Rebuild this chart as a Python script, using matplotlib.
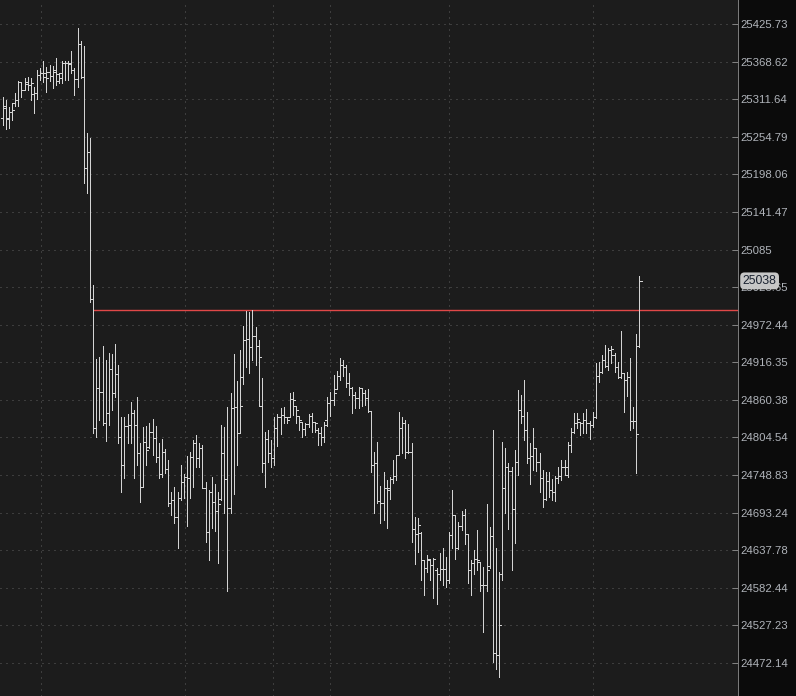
import matplotlib
matplotlib.use("Agg")
import matplotlib.pyplot as plt
from matplotlib.ticker import FixedLocator, FixedFormatter, NullLocator
from matplotlib.transforms import blended_transform_factory

# OHLC bars (oldest first)
opens = [25283, 25298, 25283, 25292, 25306, 25310, 25338, 25326, 25338, 25333,
         25320, 25321, 25349, 25352, 25352, 25353, 25347, 25353, 25350, 25352,
         25367, 25367, 25367, 25356, 25342, 25396, 25346, 25208, 25232, 25011,
         24819, 24878, 24872, 24826, 24841, 24907, 24871, 24899, 24805, 24764,
         24822, 24823, 24841, 24823, 24782, 24731, 24798, 24791, 24813, 24804,
         24776, 24751, 24783, 24758, 24708, 24712, 24687, 24715, 24739, 24746,
         24745, 24776, 24797, 24774, 24789, 24730, 24665, 24723, 24709, 24695,
         24714, 24782, 24743, 24700, 24849, 24850, 24811, 24895, 24949, 24951,
         24939, 24955, 24940, 24852, 24767, 24802, 24782, 24774, 24819, 24835,
         24838, 24835, 24835, 24862, 24851, 24836, 24828, 24817, 24825, 24837,
         24828, 24816, 24811, 24805, 24831, 24856, 24860, 24877, 24896, 24912,
         24909, 24886, 24878, 24868, 24863, 24878, 24871, 24863, 24844, 24763,
         24767, 24711, 24708, 24729, 24729, 24743, 24748, 24779, 24819, 24826,
         24783, 24783, 24669, 24661, 24663, 24624, 24612, 24624, 24616, 24609,
         24602, 24610, 24610, 24594, 24660, 24689, 24641, 24674, 24689, 24662,
         24608, 24619, 24625, 24621, 24587, 24586, 24615, 24659, 24487, 24484,
         24602, 24729, 24760, 24755, 24699, 24768, 24846, 24837, 24816, 24774,
         24777, 24789, 24768, 24745, 24714, 24740, 24727, 24723, 24745, 24748,
         24760, 24749, 24794, 24813, 24826, 24828, 24826, 24831, 24826, 24823,
         24835, 24896, 24902, 24920, 24911, 24935, 24927, 24909, 24895, 24901,
         24890, 24895, 24829, 24829, 24940]

highs = [25315, 25310, 25300, 25306, 25321, 25339, 25338, 25344, 25346, 25344,
         25330, 25356, 25359, 25370, 25361, 25364, 25362, 25374, 25352, 25370,
         25370, 25370, 25384, 25359, 25420, 25400, 25393, 25261, 25253, 25032,
         24921, 24924, 24940, 24920, 24930, 24929, 24943, 24912, 24835, 24835,
         24840, 24857, 24846, 24865, 24797, 24820, 24822, 24826, 24832, 24822,
         24797, 24802, 24788, 24771, 24724, 24731, 24724, 24763, 24751, 24777,
         24783, 24801, 24808, 24797, 24794, 24739, 24727, 24746, 24736, 24724,
         24823, 24820, 24850, 24871, 24929, 24889, 24935, 24970, 24993, 24991,
         24994, 24969, 24949, 24893, 24813, 24816, 24801, 24835, 24840, 24849,
         24850, 24835, 24871, 24872, 24851, 24837, 24828, 24826, 24840, 24841,
         24828, 24819, 24820, 24828, 24865, 24872, 24898, 24904, 24923, 24920,
         24912, 24901, 24880, 24872, 24880, 24878, 24875, 24877, 24844, 24783,
         24798, 24733, 24754, 24742, 24746, 24771, 24779, 24843, 24835, 24831,
         24825, 24797, 24687, 24686, 24665, 24624, 24631, 24625, 24627, 24612,
         24634, 24641, 24628, 24665, 24727, 24690, 24680, 24695, 24699, 24662,
         24624, 24638, 24668, 24621, 24613, 24706, 24672, 24816, 24641, 24605,
         24798, 24789, 24767, 24760, 24786, 24875, 24868, 24890, 24843, 24797,
         24819, 24789, 24782, 24757, 24754, 24754, 24743, 24748, 24761, 24771,
         24771, 24798, 24819, 24841, 24841, 24828, 24841, 24847, 24829, 24843,
         24915, 24917, 24927, 24942, 24937, 24940, 24930, 24917, 24963, 24901,
         24902, 24923, 24850, 24958, 25045]

lows = [25273, 25267, 25268, 25280, 25301, 25301, 25315, 25326, 25326, 25310,
        25291, 25312, 25341, 25338, 25323, 25339, 25329, 25333, 25336, 25336,
        25341, 25341, 25352, 25318, 25330, 25344, 25185, 25170, 25006, 24811,
        24805, 24831, 24823, 24800, 24823, 24846, 24865, 24797, 24723, 24745,
        24797, 24797, 24745, 24764, 24709, 24731, 24764, 24789, 24779, 24768,
        24745, 24746, 24752, 24703, 24690, 24678, 24641, 24712, 24715, 24674,
        24715, 24731, 24760, 24760, 24729, 24650, 24624, 24671, 24666, 24619,
        24712, 24693, 24578, 24693, 24721, 24763, 24811, 24884, 24909, 24901,
        24920, 24912, 24852, 24754, 24731, 24768, 24760, 24764, 24792, 24810,
        24826, 24826, 24835, 24838, 24826, 24816, 24805, 24808, 24820, 24813,
        24813, 24794, 24794, 24798, 24822, 24837, 24853, 24877, 24890, 24896,
        24880, 24868, 24841, 24849, 24849, 24852, 24853, 24843, 24754, 24693,
        24708, 24678, 24683, 24671, 24714, 24737, 24742, 24779, 24782, 24774,
        24782, 24650, 24618, 24635, 24594, 24572, 24606, 24594, 24568, 24559,
        24594, 24587, 24584, 24590, 24641, 24625, 24640, 24668, 24647, 24590,
        24572, 24602, 24609, 24577, 24518, 24577, 24612, 24474, 24464, 24451,
        24594, 24693, 24669, 24609, 24649, 24749, 24826, 24801, 24767, 24736,
        24757, 24755, 24723, 24702, 24712, 24717, 24712, 24711, 24737, 24742,
        24749, 24746, 24783, 24811, 24819, 24808, 24811, 24811, 24802, 24820,
        24834, 24887, 24901, 24909, 24905, 24915, 24902, 24893, 24893, 24843,
        24866, 24816, 24819, 24752, 24939]

closes = [25301, 25282, 25292, 25295, 25310, 25338, 25326, 25335, 25333, 25336,
          25321, 25349, 25352, 25346, 25344, 25347, 25356, 25339, 25344, 25367,
          25367, 25365, 25356, 25342, 25396, 25346, 25208, 25232, 25011, 24819,
          24878, 24872, 24826, 24841, 24907, 24871, 24899, 24805, 24764, 24822,
          24823, 24841, 24823, 24782, 24731, 24798, 24786, 24813, 24804, 24776,
          24751, 24783, 24758, 24708, 24712, 24687, 24715, 24739, 24746, 24745,
          24776, 24797, 24774, 24789, 24730, 24665, 24723, 24709, 24695, 24706,
          24782, 24743, 24700, 24849, 24850, 24811, 24852, 24949, 24951, 24939,
          24955, 24940, 24924, 24767, 24802, 24782, 24774, 24819, 24835, 24838,
          24835, 24831, 24862, 24860, 24845, 24831, 24817, 24825, 24837, 24828,
          24826, 24811, 24805, 24823, 24856, 24860, 24871, 24896, 24912, 24909,
          24886, 24878, 24868, 24863, 24878, 24871, 24863, 24844, 24763, 24767,
          24711, 24708, 24729, 24727, 24743, 24748, 24779, 24819, 24826, 24783,
          24783, 24669, 24661, 24675, 24624, 24612, 24625, 24616, 24625, 24602,
          24610, 24610, 24594, 24660, 24689, 24641, 24674, 24689, 24662, 24608,
          24619, 24625, 24624, 24587, 24586, 24608, 24659, 24487, 24484, 24528,
          24729, 24760, 24755, 24699, 24768, 24846, 24837, 24816, 24774, 24777,
          24789, 24768, 24745, 24714, 24740, 24727, 24723, 24745, 24748, 24760,
          24760, 24794, 24813, 24826, 24832, 24826, 24831, 24826, 24823, 24835,
          24896, 24902, 24920, 24911, 24935, 24936, 24909, 24895, 24901, 24890,
          24895, 24829, 24829, 24810, 25038]

# price axis labels
price_ticks = [25425.73, 25368.62, 25311.64, 25254.79, 25198.06, 25141.47, 25085,
               25028.65, 24972.44, 24916.35, 24860.38, 24804.54, 24748.83, 24693.24,
               24637.78, 24582.44, 24527.23, 24472.14]
price_labels = ["25425.73", "25368.62", "25311.64", "25254.79", "25198.06", "25141.47", "25085",
                "25028.65", "24972.44", "24916.35", "24860.38", "24804.54", "24748.83", "24693.24",
                "24637.78", "24582.44", "24527.23", "24472.14"]

# session separators (bar positions) and the level line
session_breaks = [12.3, 58.4, 86.6, 104.9, 143.0, 189.2]
level_price = 24995
level_start = 29
last_label = "25038"

BG = "#1c1c1c"
PANEL = "#0b0b0b"
BAR = "#d4d4d4"
GRID = "#5e5e5e"
TXT = "#b0b4ba"
PX = 72 / 100  # one pixel in points


def main():
    fig = plt.figure(figsize=(7.96, 6.96), dpi=100, facecolor=PANEL)
    ax = fig.add_axes([0, 0, 737.5 / 796, 1])
    ax.set_facecolor(BG)

    x = list(range(len(opens)))
    ax.vlines(x, lows, highs, colors=BAR, linewidth=PX, antialiased=False, zorder=3)
    ax.hlines(opens, [i - 0.65 for i in x], x, colors=BAR, linewidth=PX,
              antialiased=False, zorder=3)
    ax.hlines(closes, x, [i + 0.65 for i in x], colors=BAR, linewidth=PX,
              antialiased=False, zorder=3)

    ax.set_xlim(-0.865, 235.4)
    ax.hlines(level_price, level_start, 236, colors="#e04848", linewidth=1.0, zorder=2)

    ax.set_yscale("log")
    ax.set_ylim(24423.8, 25462.3)
    ax.yaxis.set_major_locator(FixedLocator(price_ticks))
    ax.yaxis.set_major_formatter(FixedFormatter(price_labels))
    ax.yaxis.set_minor_locator(NullLocator())
    ax.yaxis.tick_right()
    ax.tick_params(axis="y", direction="in", length=4, width=PX, color="#808080",
                   pad=2.2, labelsize=8.2, labelcolor=TXT)
    for lab in ax.get_yticklabels():
        lab.set_fontfamily("Liberation Sans")

    ax.set_xticks(session_breaks)
    ax.tick_params(axis="x", length=0, labelbottom=False)

    ax.grid(True, color=GRID, linewidth=PX, linestyle=(0, (1, 5)), zorder=1)

    for side in ["top", "left", "bottom"]:
        ax.spines[side].set_visible(False)
    ax.spines["right"].set_color("#7a7a7a")
    ax.spines["right"].set_linewidth(PX)

    # last price tag
    tr = blended_transform_factory(ax.transAxes, ax.transData)
    ax.text(1.007, closes[-1], last_label, transform=tr, ha="left", va="center",
            fontsize=8.8, family="Liberation Sans", color="#1a2230", zorder=10,
            clip_on=False,
            bbox=dict(boxstyle="round,pad=0.2,rounding_size=0.35", fc="#c6c6c6", ec="none"))

    fig.savefig("out.png", dpi=100, facecolor=PANEL)


if __name__ == '__main__':
    main()
